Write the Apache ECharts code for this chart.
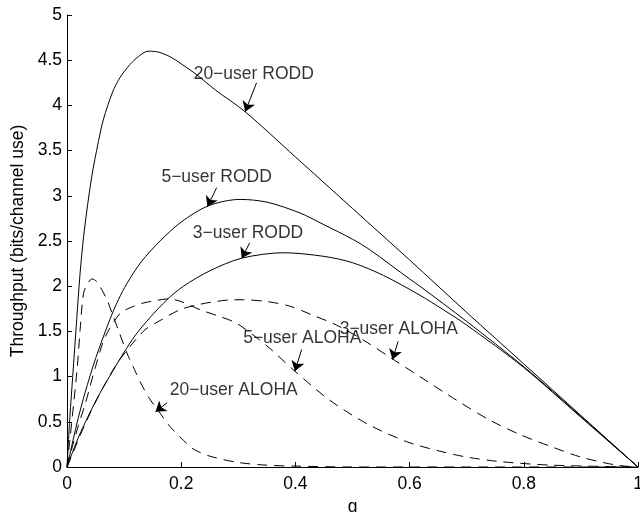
<!DOCTYPE html>
<html>
<head>
<meta charset="utf-8">
<script src="https://cdn.jsdelivr.net/npm/echarts@6/dist/echarts.min.js"></script>
<style>
html,body{margin:0;padding:0;background:#fff;}
#chart{width:640px;height:512px;}
</style>
</head>
<body>
<div id="chart"></div>
<script>
// ---- data ----
const xTicks = ["0", "0.2", "0.4", "0.6", "0.8", "1"];
const yTicks = ["0", "0.5", "1", "1.5", "2", "2.5", "3", "3.5", "4", "4.5", "5"];

const q_rodd20 = [0, 0.005, 0.01, 0.017, 0.023, 0.03, 0.043, 0.055, 0.064, 0.08, 0.093, 0.11, 0.125, 0.142, 0.16, 0.18, 0.2, 0.227, 0.26, 0.312, 0.4, 0.5, 0.6, 0.7, 0.8, 0.9, 1.0];
const y_rodd20 = [0, 0.55, 1.0, 1.63, 2.15, 2.6, 3.2, 3.6, 3.85, 4.15, 4.31, 4.45, 4.54, 4.60, 4.59, 4.54, 4.46, 4.34, 4.17, 3.93, 3.43, 2.86, 2.29, 1.71, 1.14, 0.57, 0];

const q_rodd5 = [0, 0.01, 0.02, 0.0315, 0.05, 0.075, 0.09, 0.105, 0.13, 0.163, 0.2, 0.248, 0.303, 0.35, 0.408, 0.45, 0.5, 0.531, 0.6, 0.618, 0.7, 0.8, 0.9, 1.0];
const y_rodd5 = [0, 0.28, 0.55, 0.82, 1.2, 1.63, 1.85, 2.03, 2.27, 2.50, 2.71, 2.89, 2.96, 2.93, 2.81, 2.68, 2.52, 2.40, 2.08, 2.0, 1.61, 1.11, 0.56, 0];

const q_rodd3 = [0, 0.01, 0.023, 0.04, 0.058, 0.08, 0.099, 0.12, 0.145, 0.175, 0.204, 0.25, 0.306, 0.379, 0.45, 0.5, 0.554, 0.618, 0.659, 0.7, 0.8, 0.9, 1.0];
const y_rodd3 = [0, 0.17, 0.37, 0.6, 0.82, 1.06, 1.26, 1.46, 1.65, 1.85, 2.0, 2.17, 2.31, 2.37, 2.33, 2.26, 2.12, 1.90, 1.74, 1.57, 1.10, 0.55, 0];

const q_aloha3 = [0, 0.01, 0.023, 0.05, 0.085, 0.11, 0.137, 0.163, 0.198, 0.233, 0.26, 0.29, 0.309, 0.35, 0.39, 0.43, 0.472, 0.52, 0.569, 0.618, 0.682, 0.74, 0.793, 0.846, 0.9, 0.963, 1.0];
const y_aloha3 = [0, 0.15, 0.35, 0.72, 1.12, 1.33, 1.52, 1.62, 1.74, 1.80, 1.83, 1.85, 1.85, 1.83, 1.78, 1.68, 1.57, 1.40, 1.20, 1.0, 0.74, 0.52, 0.36, 0.23, 0.11, 0.02, 0];

const q_aloha5 = [0, 0.01, 0.02, 0.032, 0.05, 0.067, 0.093, 0.11, 0.131, 0.155, 0.178, 0.2, 0.233, 0.265, 0.297, 0.35, 0.399, 0.46, 0.525, 0.595, 0.65, 0.7, 0.758, 0.85, 1.0];
const y_aloha5 = [0, 0.24, 0.46, 0.70, 1.11, 1.44, 1.70, 1.76, 1.81, 1.84, 1.86, 1.83, 1.74, 1.67, 1.59, 1.34, 1.06, 0.74, 0.48, 0.28, 0.18, 0.11, 0.06, 0.02, 0];

const q_aloha20 = [0, 0.005, 0.0175, 0.023, 0.029, 0.037, 0.044, 0.052, 0.061, 0.07, 0.079, 0.092, 0.105, 0.118, 0.13, 0.143, 0.158, 0.18, 0.2, 0.221, 0.25, 0.3, 0.35, 0.4, 0.5, 0.7, 1.0];
const y_aloha20 = [0, 0.3, 1.07, 1.52, 1.92, 2.04, 2.08, 2.05, 1.96, 1.85, 1.70, 1.48, 1.26, 1.08, 0.92, 0.77, 0.64, 0.45, 0.32, 0.20, 0.12, 0.05, 0.02, 0.01, 0, 0, 0];

// annotation labels [q, throughput, text] and arrows [fromQ, fromY, toQ, toY]
const labels = [
  [0.327, 4.35, "20\u2212user RODD"],
  [0.262, 3.21, "5\u2212user RODD"],
  [0.317, 2.59, "3\u2212user RODD"],
  [0.412, 1.43, "5\u2212user ALOHA"],
  [0.581, 1.52, "3\u2212user ALOHA"],
  [0.292, 0.85, "20\u2212user ALOHA"]
];
const arrows = [
  [0.332, 4.25, 0.312, 3.93],
  [0.262, 3.09, 0.246, 2.88],
  [0.320, 2.48, 0.306, 2.31],
  [0.411, 1.30, 0.399, 1.06],
  [0.580, 1.39, 0.570, 1.19],
  [0.175, 0.71, 0.155, 0.61]
];

// ---- chart ----
const FONT = '"Liberation Sans", Arial, Helvetica, sans-serif';
const FS = 17.5;
const zip = (xs, ys) => xs.map((x, i) => [x, ys[i]]);

function curve(name, xs, ys, dashed) {
  return {
    name: name, type: 'line', data: zip(xs, ys),
    showSymbol: false, symbol: 'none', smooth: 0.3,
    lineStyle: { color: '#000', width: 1, type: dashed ? [10, 7] : 'solid' },
    silent: true, z: 2
  };
}

const chart = echarts.init(document.getElementById('chart'), null, { renderer: 'canvas' });
chart.setOption({
  animation: false,
  backgroundColor: '#fff',
  textStyle: { fontFamily: FONT },
  grid: { left: 67, right: 2, top: 15, bottom: 45, containLabel: false, outerBoundsMode: 'none' },
  xAxis: {
    type: 'value', min: 0, max: 1, interval: 0.2,
    name: 'q', nameLocation: 'middle', nameGap: 31,
    nameTextStyle: { color: '#000', fontSize: FS, fontFamily: FONT },
    axisLine: { show: true, lineStyle: { color: '#000', width: 1 } },
    axisTick: { show: true, inside: true, length: 5, lineStyle: { color: '#000' } },
    axisLabel: { color: '#000', fontSize: FS, fontFamily: FONT, margin: 8,
      formatter: (v) => xTicks[Math.round(v / 0.2)] },
    splitLine: { show: false }
  },
  yAxis: {
    type: 'value', min: 0, max: 5, interval: 0.5,
    name: 'Throughput (bits/channel use)', nameLocation: 'middle', nameGap: 40, nameRotate: 90,
    nameTextStyle: { color: '#000', fontSize: FS, fontFamily: FONT },
    axisLine: { show: true, lineStyle: { color: '#000', width: 1 } },
    axisTick: { show: true, inside: true, length: 5, lineStyle: { color: '#000' } },
    axisLabel: { color: '#000', fontSize: FS, fontFamily: FONT, margin: 5,
      formatter: (v) => yTicks[Math.round(v / 0.5)] },
    splitLine: { show: false }
  },
  series: [
    curve('20-user RODD', q_rodd20, y_rodd20, false),
    curve('5-user RODD', q_rodd5, y_rodd5, false),
    curve('3-user RODD', q_rodd3, y_rodd3, false),
    curve('3-user ALOHA', q_aloha3, y_aloha3, true),
    curve('5-user ALOHA', q_aloha5, y_aloha5, true),
    curve('20-user ALOHA', q_aloha20, y_aloha20, true),
    {
      name: 'annotations', type: 'scatter', symbolSize: 0, silent: true, z: 5,
      data: labels,
      label: { show: true, position: 'inside', color: '#000', fontSize: FS, fontFamily: FONT,
        formatter: (p) => p.value[2] },
      markLine: {
        silent: true, animation: false,
        symbol: ['none', 'arrow'], symbolSize: 10,
        label: { show: false },
        lineStyle: { color: '#000', type: 'solid', width: 1 },
        emphasis: { disabled: true },
        data: arrows.map(a => [{ coord: [a[0], a[1]] }, { coord: [a[2], a[3]] }])
      }
    }
  ]
});
</script>
</body>
</html>
